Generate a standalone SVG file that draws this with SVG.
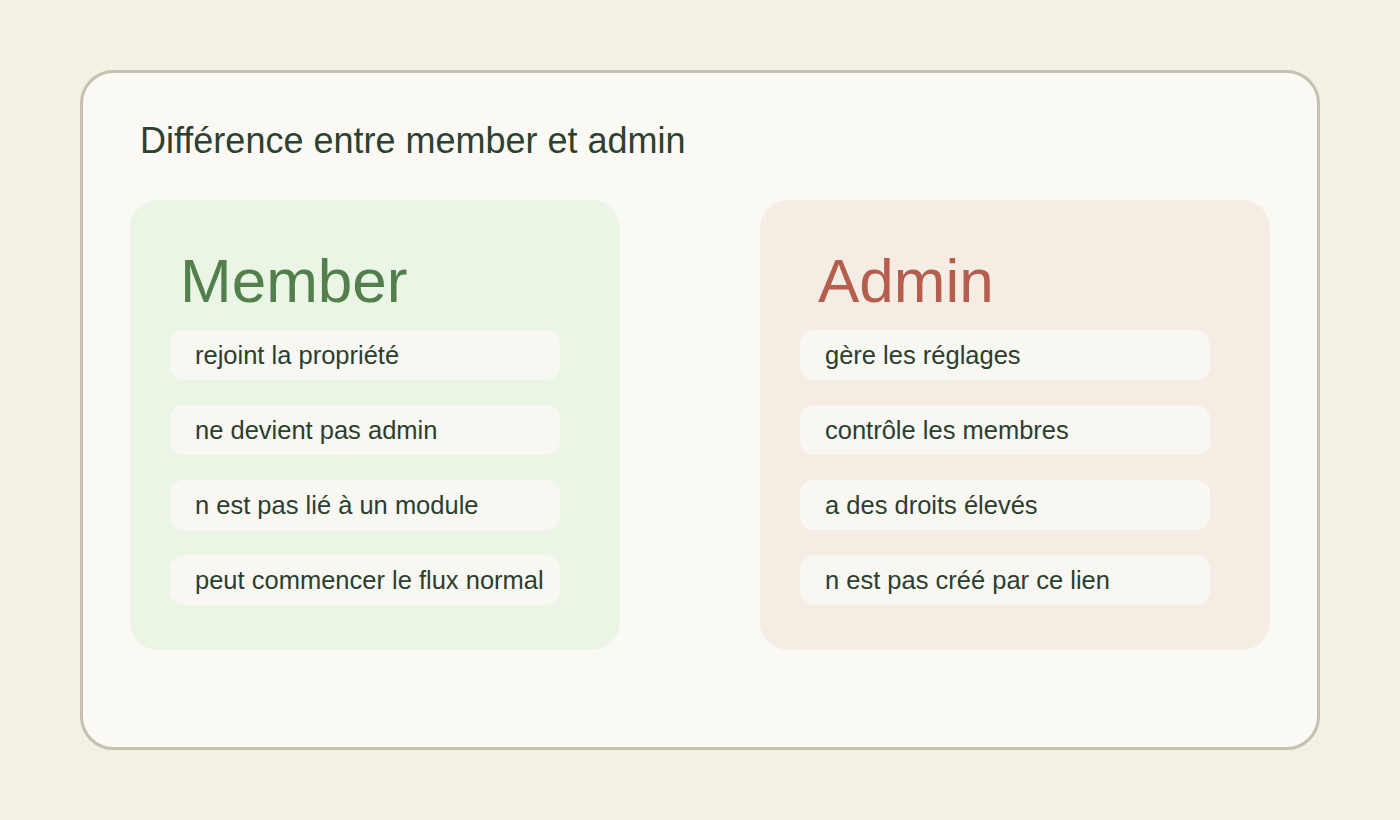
<svg xmlns="http://www.w3.org/2000/svg" width="1400" height="820" viewBox="0 0 1400 820">
<style>
.t{font-family:"Liberation Sans",Arial,sans-serif;}
.pill{fill:#f8f7f1;}
.pt{font-family:"Liberation Sans",Arial,sans-serif;font-size:25.5px;fill:#2c3e30;}
.hd{font-family:"Liberation Sans",Arial,sans-serif;font-size:62px;}
</style>
<rect x="0" y="0" width="1400" height="820" fill="#f4f0e6"/>
<g id="frame">
<rect x="81.5" y="71.5" width="1237" height="677" rx="32" fill="#faf9f4" stroke="#c5c0b0" stroke-width="3"/>
<text class="t" x="140" y="153" font-size="36" fill="#2c4132">Différence entre member et admin</text>
</g>
<g id="member">
<rect x="130" y="200" width="490" height="450" rx="28" fill="#eaf5e6"/>
<text class="hd" x="180" y="302" fill="#527f4b">Member</text>
<rect class="pill" x="170" y="330" width="390" height="50" rx="14"/>
<text class="pt" x="195" y="364">rejoint la propriété</text>
<rect class="pill" x="170" y="405" width="390" height="50" rx="14"/>
<text class="pt" x="195" y="439">ne devient pas admin</text>
<rect class="pill" x="170" y="480" width="390" height="50" rx="14"/>
<text class="pt" x="195" y="514">n est pas lié à un module</text>
<rect class="pill" x="170" y="555" width="390" height="50" rx="14"/>
<text class="pt" x="195" y="589">peut commencer le flux normal</text>
</g>
<g id="admin">
<rect x="760" y="200" width="510" height="450" rx="28" fill="#f5ede3"/>
<text class="hd" x="818" y="302" fill="#b55e4e">Admin</text>
<rect class="pill" x="800" y="330" width="410" height="50" rx="14"/>
<text class="pt" x="825" y="364">gère les réglages</text>
<rect class="pill" x="800" y="405" width="410" height="50" rx="14"/>
<text class="pt" x="825" y="439">contrôle les membres</text>
<rect class="pill" x="800" y="480" width="410" height="50" rx="14"/>
<text class="pt" x="825" y="514">a des droits élevés</text>
<rect class="pill" x="800" y="555" width="410" height="50" rx="14"/>
<text class="pt" x="825" y="589">n est pas créé par ce lien</text>
</g>
<g id="connectors"/>
</svg>
